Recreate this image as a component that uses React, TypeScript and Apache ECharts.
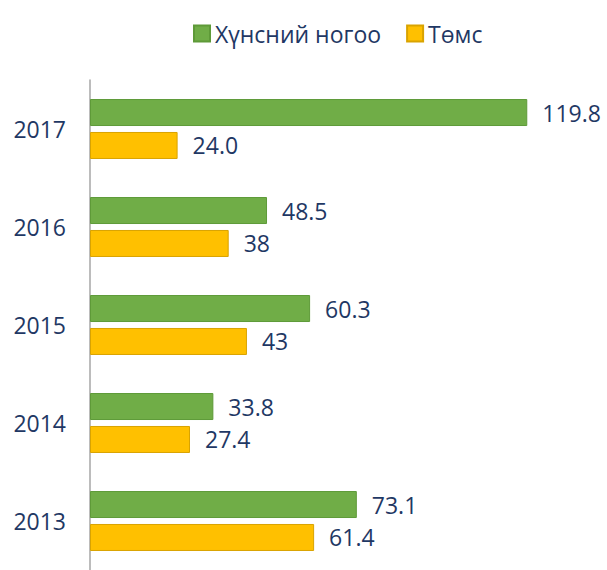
import React, { useEffect, useRef } from "react";
import * as echarts from "echarts";

const years = ["2013", "2014", "2015", "2016", "2017"];
const vegValues = [73.1, 33.8, 60.3, 48.5, 119.8];
const vegLabels = ["73.1", "33.8", "60.3", "48.5", "119.8"];
const potatoValues = [61.4, 27.4, 43, 38, 24.0];
const potatoLabels = ["61.4", "27.4", "43", "38", "24.0"];
const seriesNames = ["Хүнсний ногоо", "Төмс"];

const FONT = "'Open Sans', 'Noto Sans', sans-serif";
const TEXT = "#1F3864";

export default function App() {
  const ref = useRef<HTMLDivElement>(null);
  useEffect(() => {
    document.body.style.margin = "0";
    const chart = echarts.init(ref.current!, undefined, { renderer: "svg" });
    chart.setOption({
      animation: false,
      backgroundColor: "#ffffff",
      legend: {
        top: 17,
        left: 188,
        itemWidth: 16,
        itemHeight: 16,
        itemGap: 25,
        icon: "rect",
        textStyle: { color: TEXT, fontSize: 23, fontFamily: FONT },
        data: seriesNames,
      },
      grid: { left: 90, top: 80, width: 511, height: 494.5, containLabel: false },
      xAxis: {
        type: "value",
        min: 0,
        max: 140,
        show: false,
      },
      yAxis: {
        type: "category",
        data: years,
        axisLine: { show: true, lineStyle: { color: "#A6A6A6", width: 1.5 } },
        axisTick: { show: false },
        axisLabel: { color: TEXT, fontSize: 23, fontFamily: FONT, margin: 24 },
        splitLine: { show: false },
      },
      series: [
        {
          name: seriesNames[0],
          type: "bar",
          data: vegValues,
          barWidth: 27,
          barGap: "22%",
          itemStyle: { color: "#70AD47", borderColor: "#5E9A38", borderWidth: 1 },
          label: {
            show: true,
            position: "right",
            distance: 15,
            color: TEXT,
            fontSize: 23,
            fontFamily: FONT,
            formatter: (p: any) => vegLabels[p.dataIndex],
          },
        },
        {
          name: seriesNames[1],
          type: "bar",
          data: potatoValues,
          barWidth: 27,
          itemStyle: { color: "#FFC000", borderColor: "#D9A300", borderWidth: 1 },
          label: {
            show: true,
            position: "right",
            distance: 15,
            color: TEXT,
            fontSize: 23,
            fontFamily: FONT,
            formatter: (p: any) => potatoLabels[p.dataIndex],
          },
        },
      ],
    });
    return () => chart.dispose();
  }, []);
  return <div ref={ref} style={{ width: 607, height: 570 }} />;
}
